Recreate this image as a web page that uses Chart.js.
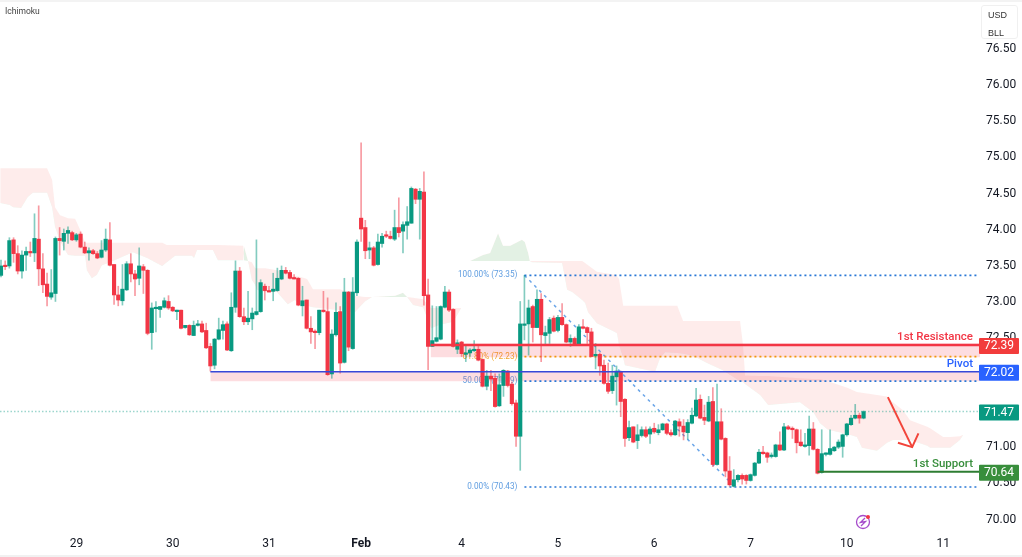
<!DOCTYPE html>
<html>
<head>
<meta charset="utf-8">
<title>Ichimoku</title>
<script src="https://cdn.jsdelivr.net/npm/chart.js@4"></script>
<style>
  html, body { margin: 0; padding: 0; background: #fff; overflow: hidden; }
  #wrap { position: relative; width: 1022px; height: 557px; }
  #topband { position: absolute; left: 0; top: 0; width: 1022px; height: 2px; background: #f3f3f3; }
  #bottomband { position: absolute; left: 0; top: 555px; width: 1022px; height: 2px; background: #f1f1f1; }
  #units { position: absolute; left: 981px; top: 5px; width: 37px; height: 34px; box-sizing: border-box;
           border: 1px solid #f0f0f0; border-radius: 3px; background: #fff;
           font: 9px "Liberation Sans Narrow", "Liberation Sans", sans-serif; color: #333; padding: 0 0 0 6px; line-height: 18px; }
</style>
</head>
<body>
<div id="wrap">
  <canvas id="chart" width="1022" height="557"></canvas>
  <div id="topband"></div>
  <div id="bottomband"></div>
  <div id="units">USD<br>BLL</div>
</div>
<script>
// Hourly candles
const opens = [
  73.35,73.48,73.48,73.84,73.65,73.41,73.63,73.67,73.66,73.85,
  73.44,73.23,73.05,73.10,73.86,73.82,73.93,73.94,73.84,73.92,
  73.74,73.66,73.69,73.65,73.60,73.70,73.84,73.50,73.08,73.00,
  73.15,73.51,73.37,73.31,73.47,73.42,72.56,72.89,72.88,72.91,
  72.99,72.91,72.85,72.87,72.63,72.66,72.52,72.66,72.68,72.59,
  72.37,72.11,72.47,72.59,72.68,72.31,72.91,73.41,72.78,72.71,
  72.75,72.81,72.85,73.20,73.14,73.13,73.14,73.30,73.42,73.39,
  73.32,73.31,72.93,73.01,72.62,72.58,72.56,72.87,72.85,71.99,
  72.53,72.85,72.15,73.12,72.34,73.11,74.14,74.01,73.70,73.73,
  73.50,73.79,73.91,73.89,73.85,74.01,73.96,74.04,74.07,74.54,
  74.40,74.50,73.08,72.37,72.44,72.47,72.91,73.12,72.88,72.33,
  72.43,72.26,72.28,72.31,72.33,72.19,71.82,71.96,71.93,71.55,
  71.83,72.03,71.85,71.59,71.13,72.66,72.68,72.92,72.63,73.02,
  72.52,72.55,72.76,72.59,72.77,72.67,72.43,72.48,72.40,72.63,
  72.63,72.57,72.24,72.26,72.11,71.86,71.76,71.95,72.02,71.64,
  71.11,71.26,71.07,71.14,71.22,71.16,71.24,71.18,71.22,71.30,
  71.18,71.15,71.33,71.27,71.18,71.31,71.41,71.64,71.39,71.34,
  71.61,70.74,71.33,71.10,70.65,70.44,70.53,70.59,70.59,70.52,
  70.59,70.76,70.91,70.90,70.85,70.85,71.01,70.94,71.26,71.24,
  71.22,71.05,70.99,71.00,71.23,70.95,70.63,70.88,70.88,70.93,
  70.98,70.99,71.15,71.29,71.38,71.42,71.38
];
const highs = [
  73.56,73.55,73.87,73.87,73.76,73.69,73.74,73.81,74.20,74.31,
  73.65,73.38,73.43,73.88,74.01,73.99,74.02,73.96,73.93,73.95,
  73.81,73.73,73.71,73.68,73.83,73.99,74.08,73.50,73.20,73.50,
  73.54,73.65,73.42,73.73,73.50,73.43,72.97,72.99,72.92,73.04,
  73.07,72.92,72.87,72.87,72.66,72.67,72.72,72.73,72.72,72.69,
  72.41,72.48,72.76,72.72,72.71,73.11,73.55,73.46,72.90,73.13,
  72.90,73.84,73.29,73.23,73.20,73.38,73.45,73.48,73.46,73.42,
  73.36,73.32,73.20,73.01,72.78,72.60,72.87,73.13,73.04,72.60,
  72.97,72.92,73.31,73.13,73.32,73.84,75.18,74.11,73.81,73.75,
  73.92,73.93,73.96,73.96,74.25,74.42,74.09,74.30,74.57,74.55,
  74.55,74.78,73.30,72.93,72.92,72.93,73.20,73.15,72.89,72.46,
  72.44,72.39,72.34,72.45,72.37,72.20,72.04,72.04,71.99,71.99,
  72.05,72.04,71.88,71.63,72.99,73.35,73.01,72.94,73.15,73.10,
  72.65,72.77,72.79,72.80,72.96,72.68,72.53,72.50,72.67,72.74,
  72.64,72.62,72.41,72.28,72.18,72.14,72.11,72.10,72.03,71.65,
  71.34,71.26,71.29,71.26,71.26,71.26,71.31,71.29,71.31,71.31,
  71.22,71.35,71.37,71.36,71.36,71.52,71.79,71.70,71.56,71.68,
  71.80,71.85,71.51,71.11,70.85,70.67,70.60,70.61,70.60,70.61,
  70.77,70.95,70.99,70.91,70.90,71.02,71.19,71.31,71.28,71.26,
  71.23,71.22,71.17,71.41,71.32,70.96,71.22,70.90,71.22,70.99,
  71.08,71.16,71.31,71.42,71.57,71.45,71.48
];
const lows = [
  73.33,73.43,73.45,73.53,73.37,73.31,73.42,73.61,73.54,73.21,
  73.11,72.93,73.02,72.99,73.63,73.70,73.79,73.83,73.82,73.73,
  73.65,73.56,73.64,73.58,73.59,73.68,73.48,72.95,72.93,72.94,
  73.14,73.26,73.07,73.22,73.10,72.53,72.33,72.57,72.77,72.90,
  72.88,72.85,72.74,72.61,72.62,72.52,72.52,72.65,72.56,72.34,
  72.03,72.06,72.46,72.47,72.31,72.30,72.84,72.77,72.67,72.67,
  72.60,72.80,72.84,73.01,73.12,73.00,73.13,73.29,73.37,73.30,
  73.30,72.93,72.79,72.61,72.41,72.34,72.53,72.84,71.97,71.93,
  72.51,72.00,72.14,72.31,72.33,73.07,73.82,73.58,73.58,73.48,
  73.49,73.74,73.87,73.85,73.83,73.88,73.66,73.85,74.07,74.34,
  73.85,72.94,72.05,72.37,72.43,72.46,72.90,72.85,72.36,72.27,
  72.23,72.16,72.23,72.30,72.17,71.81,71.77,71.76,71.53,71.54,
  71.68,71.81,71.56,70.99,70.66,72.46,72.25,72.43,72.63,72.16,
  72.39,72.41,72.57,72.57,72.66,72.42,72.37,72.39,72.38,72.61,
  72.41,72.23,72.06,71.97,71.85,71.72,71.72,71.56,71.40,70.99,
  71.07,71.04,70.96,71.12,71.11,71.03,71.17,71.15,71.21,71.15,
  71.13,71.14,71.13,71.08,71.09,71.30,71.40,71.37,71.29,71.33,
  70.71,70.73,71.08,70.57,70.44,70.43,70.50,70.47,70.47,70.51,
  70.58,70.75,70.88,70.77,70.83,70.84,70.93,70.93,71.22,71.10,
  70.90,70.99,70.98,70.87,70.94,70.61,70.62,70.86,70.87,70.92,
  70.96,70.84,71.13,71.28,71.37,71.31,71.37
];
const closes = [
  73.48,73.47,73.83,73.65,73.41,73.63,73.68,73.66,73.86,73.44,
  73.22,73.06,73.11,73.86,73.83,73.93,73.97,73.84,73.91,73.74,
  73.66,73.69,73.65,73.59,73.70,73.85,73.49,73.08,73.01,73.16,
  73.51,73.37,73.30,73.48,73.42,72.55,72.90,72.91,72.92,73.00,
  72.90,72.86,72.87,72.62,72.66,72.53,72.66,72.67,72.57,72.35,
  72.10,72.47,72.60,72.67,72.32,72.91,73.41,72.78,72.71,72.76,
  72.83,72.85,73.25,73.14,73.12,73.16,73.31,73.42,73.38,73.31,
  73.30,72.94,73.00,72.62,72.57,72.56,72.87,72.85,71.98,72.54,
  72.84,72.14,73.12,72.36,73.12,73.81,73.99,73.69,73.73,73.49,
  73.81,73.89,73.89,73.86,74.01,73.94,74.05,74.09,74.55,74.40,
  74.51,73.07,72.37,72.45,72.49,72.92,73.12,72.87,72.37,72.42,
  72.27,72.28,72.32,72.33,72.18,71.82,71.96,71.92,71.54,71.84,
  72.04,71.83,71.58,71.13,72.68,72.68,72.90,72.63,73.02,72.53,
  72.56,72.74,72.58,72.77,72.67,72.43,72.48,72.40,72.64,72.62,
  72.56,72.23,72.26,72.10,71.86,71.75,71.96,72.03,71.61,71.10,
  71.25,71.05,71.15,71.22,71.13,71.23,71.19,71.22,71.30,71.17,
  71.15,71.34,71.27,71.19,71.32,71.42,71.63,71.38,71.35,71.60,
  70.74,71.33,71.09,70.65,70.46,70.53,70.59,70.54,70.52,70.60,
  70.76,70.91,70.89,70.84,70.87,71.01,70.94,71.26,71.23,71.22,
  71.04,71.00,71.01,71.23,70.95,70.62,70.89,70.89,70.96,70.98,
  71.05,71.15,71.30,71.38,71.42,71.38,71.47
];

// Ichimoku cloud knots (x in candle numbers)
const cloudX = [
  -0.2,2.1,2.9,4.8,6.4,7.6,11,12.2,12.9,14.1,14.6,16,17.7,18.9,20.1,20.5,21.7,22.9,24.1,25.6,
  31.5,34.9,36.8,38.5,39.6,41.6,45.6,46.1,46.8,50.6,51.8,57.8,58,59,59.9,60.7,61.1,63.1,65.9,68.5,
  70.2,71.4,73.1,74.5,81,84.5,86.9,88.6,94.1,96,97,98.4,100.8,102.7,104.8,108,109.9,112,115.1,116.8,
  118.7,119.9,121.6,124.4,125.1,125.9,126.3,126.8,134,135.2,136.4,138.8,139.5,140.2,142.3,146.6,147.1,147.6,148.6,149,
  156.2,157.4,158.6,161.5,162.9,165.3,168.6,172.4,176.5,177.2,177.7,181.3,183.2,190.8,194,195.6,197.5,202.1,204.4,205.6,
  209.2,211.6,213,215.4,217.1,221.2,221.9,225,226.7,229,229.8
];
const spanA = [
  74.35,74.32,74.29,74.28,74.43,74.49,74.49,74.29,74.02,73.82,73.77,73.63,73.62,73.62,73.62,73.42,73.31,73.36,73.49,73.52,
  73.67,73.59,73.53,73.48,73.53,73.62,73.62,73.59,73.70,73.70,73.56,73.56,73.76,73.55,73.29,73.22,73.15,73.12,73.12,72.95,
  73.01,72.94,72.93,72.91,72.87,72.84,72.99,73.05,73.07,73.11,73.05,72.94,72.91,72.62,72.67,72.71,72.90,73.55,73.63,73.66,
  73.93,73.76,73.76,73.84,73.81,73.66,73.55,73.53,73.52,73.15,73.12,73.01,72.97,72.84,72.69,72.57,72.55,72.39,72.21,72.11,
  72.02,72.21,72.29,72.28,72.27,72.24,72.14,72.04,71.89,71.88,71.85,71.70,71.56,71.60,71.46,71.31,71.22,71.16,71.12,70.97,
  70.93,71.04,71.08,71.08,71.08,71.00,70.97,70.97,70.97,71.08,71.15
];
const spanB = [
  74.83,74.83,74.83,74.83,74.83,74.83,74.83,74.67,74.29,74.18,74.17,74.14,74.13,73.98,73.80,73.80,73.80,73.80,73.80,73.80,
  73.80,73.80,73.80,73.80,73.77,73.77,73.77,73.77,73.77,73.77,73.77,73.76,73.56,73.55,73.53,73.45,73.45,73.45,73.42,73.37,
  73.34,73.33,73.30,73.16,73.16,73.07,73.05,73.05,73.05,73.05,73.05,73.04,73.02,72.90,72.90,72.90,72.90,73.55,73.55,73.55,
  73.55,73.55,73.55,73.55,73.55,73.55,73.55,73.55,73.55,73.55,73.55,73.55,73.52,73.49,73.40,73.36,73.34,73.30,72.93,72.93,
  72.93,72.93,72.93,72.93,72.72,72.72,72.72,72.72,72.72,72.39,71.97,71.96,71.96,71.93,71.92,71.92,71.89,71.80,71.74,71.73,
  71.70,71.68,71.60,71.49,71.35,71.26,71.24,71.12,71.12,71.13,71.15
];

// Axis ticks
const priceTicks = [70,70.5,71,71.5,72,72.5,73,73.5,74,74.5,75,75.5,76,76.5];
const dayTicks = [18,41,64,86,110,133,156,179,202,225];
const dayLabels = ['29','30','31','Feb','4','5','6','7','10','11'];

// Fibonacci retracement
const fibStart = 125;
const fibEnd = 233.3;
const fibPrices = [73.35,72.23,71.89,70.43];
const fibTexts = ['100.00% (73.35)','61.80% (72.23)','50.00% (71.89)','0.00% (70.43)'];
const fibColors = ['#2a78d6','#f0980a','#2a78d6','#2a78d6'];
const fibDiagonalX = [125,175.3];
const fibDiagonalY = [73.35,70.43];

// Support and resistance levels
const resistance = 72.39, resistanceTop = 72.41, resistanceFloor = 72.22, resistanceStart = 102.6;
const pivot = 72.02, pivotFloor = 71.89, pivotStart = 50;
const support = 70.64, supportStart = 195;
const lastPrice = 71.47;
const axisEnd = 233.8;

// Hand drawn arrow
const arrowShaftX = [211.8,217.6];
const arrowShaftY = [71.67,70.98];
const arrowHeadX = [214.2,217.6,219.1];
const arrowHeadY = [71.04,70.98,71.17];

const upColor = '#089981';
const downColor = '#f23645';
const uiFont = 'Roboto, "Liberation Sans", sans-serif';

function pairs(xs, ys) {
  return xs.map((x, i) => ({ x: x, y: ys[i] }));
}

// A flat line between two candle numbers
function level(price, from, to, color, width, dash, order) {
  return {
    type: 'line',
    data: [{ x: from, y: price }, { x: to, y: price }],
    borderColor: color,
    borderWidth: width,
    borderDash: dash,
    pointRadius: 0,
    order: order
  };
}

// A pink band, fills down from the previous dataset
function band(price, from) {
  return {
    type: 'line',
    data: [{ x: from, y: price }, { x: axisEnd, y: price }],
    borderWidth: 0,
    pointRadius: 0,
    fill: { target: '-1', above: 'rgba(242,54,69,0.17)', below: 'rgba(242,54,69,0.17)' },
    order: 9
  };
}

// Keep the plot area at the canvas edges, no room for half tick labels
function noPadding(scale) {
  scale.paddingTop = 0;
  scale.paddingBottom = 0;
  scale.paddingLeft = 0;
  scale.paddingRight = 0;
}

const candleUp = closes.map((c, i) => c >= opens[i]);

// Text, tags and the little icon
const annotations = {
  id: 'annotations',
  beforeDatasetsDraw(chart) {
    const { ctx, scales: { x, y } } = chart;
    ctx.save();
    ctx.font = '8.2px ' + uiFont;
    ctx.textAlign = 'right';
    ctx.textBaseline = 'middle';
    fibTexts.forEach((t, i) => {
      ctx.fillStyle = i == 1 ? '#f0a830' : '#5f9de0';
      ctx.fillText(t, x.getPixelForValue(fibStart) - 7, y.getPixelForValue(fibPrices[i]));
    });
    ctx.restore();
  },
  afterDraw(chart) {
    const { ctx, scales: { x, y } } = chart;
    const right = x.getPixelForValue(axisEnd);
    ctx.save();

    ctx.font = '8.5px ' + uiFont;
    ctx.fillStyle = '#444';
    ctx.textAlign = 'left';
    ctx.textBaseline = 'middle';
    ctx.fillText('Ichimoku', 5, 12);

    // Level names
    ctx.font = '500 11.5px ' + uiFont;
    ctx.textAlign = 'right';
    ctx.fillStyle = '#f23645';
    ctx.fillText('1st Resistance', right - 7, y.getPixelForValue(resistance) - 8);
    ctx.fillStyle = '#2962ff';
    ctx.fillText('Pivot', right - 7, y.getPixelForValue(pivot) - 8);
    ctx.fillStyle = '#388e3c';
    ctx.fillText('1st Support', right - 7, y.getPixelForValue(support) - 8);

    // Price tags on the axis
    const tags = [
      [resistance, '#f23c3c'],
      [pivot, '#2962ff'],
      [lastPrice, upColor],
      [support, '#388e3c']
    ];
    ctx.font = '12px ' + uiFont;
    ctx.textAlign = 'center';
    tags.forEach(([price, color]) => {
      const py = y.getPixelForValue(price) + 1;
      ctx.fillStyle = color;
      ctx.beginPath();
      ctx.roundRect(right - 1, py - 8, 40, 16, 1);
      ctx.fill();
      ctx.fillStyle = '#fff';
      ctx.fillText(price.toFixed(2), right + 19, py + 0.5);
    });

    // Lightning badge
    const bx = 863, by = 522;
    ctx.strokeStyle = '#a64bcb';
    ctx.lineWidth = 1.3;
    ctx.beginPath();
    ctx.arc(bx, by, 6.5, 0, Math.PI * 2);
    ctx.stroke();
    ctx.beginPath();
    ctx.moveTo(bx + 2, by - 4);
    ctx.lineTo(bx - 2.5, by + 0.5);
    ctx.lineTo(bx + 2.5, by - 0.5);
    ctx.lineTo(bx - 2, by + 4);
    ctx.stroke();
    ctx.fillStyle = '#f23645';
    ctx.beginPath();
    ctx.arc(bx + 5, by - 5, 2, 0, Math.PI * 2);
    ctx.fill();

    ctx.restore();
  }
};

let chart = new Chart(
  document.getElementById('chart'),
  {
    type: 'bar',
    plugins: [annotations],
    data: {
      datasets: [
        // Cloud
        {
          type: 'line',
          data: pairs(cloudX, spanA),
          borderWidth: 0,
          pointRadius: 0,
          order: 10
        },
        {
          type: 'line',
          data: pairs(cloudX, spanB),
          borderWidth: 0,
          pointRadius: 0,
          fill: { target: '-1', above: 'rgba(244,67,54,0.1)', below: 'rgba(67,160,71,0.15)' },
          order: 10
        },

        // Zones under resistance and pivot
        { type: 'line', data: [{ x: resistanceStart, y: resistanceTop }, { x: axisEnd, y: resistanceTop }], borderWidth: 0, pointRadius: 0, order: 9 },
        band(resistanceFloor, resistanceStart),
        { type: 'line', data: [{ x: pivotStart, y: pivot }, { x: axisEnd, y: pivot }], borderWidth: 0, pointRadius: 0, order: 9 },
        band(pivotFloor, pivotStart),

        level(lastPrice, -0.24, axisEnd, 'rgba(8,153,129,0.4)', 1.5, [1.5, 2], 8),

        // Fibonacci
        ...fibPrices.map((p, i) => level(p, fibStart, fibEnd, fibColors[i], 1.7, [2, 3], 7)),
        {
          type: 'line',
          data: pairs(fibDiagonalX, fibDiagonalY),
          borderColor: '#6aa5e8',
          borderWidth: 1.5,
          borderDash: [3, 4],
          pointRadius: 0,
          order: 7
        },

        // Candles
        {
          data: lows.map((l, i) => ({ x: i, y: [l, highs[i]] })),
          backgroundColor: candleUp.map(u => u ? 'rgba(8,153,129,0.5)' : 'rgba(242,54,69,0.5)'),
          barThickness: 1,
          grouped: false,
          order: 3
        },
        {
          data: opens.map((o, i) => ({ x: i, y: [o, closes[i]] })),
          backgroundColor: candleUp.map(u => u ? upColor : downColor),
          barThickness: 3.5,
          minBarLength: 1.5,
          grouped: false,
          order: 2
        },

        // Levels on top of the candles
        level(resistance, resistanceStart, axisEnd, '#f23645', 2.5, [], 1),
        level(pivot, pivotStart, axisEnd, '#3748d8', 1.5, [], 1),
        level(support, supportStart, axisEnd, '#2e7d32', 2, [], 1),

        // Arrow
        { type: 'line', data: pairs(arrowShaftX, arrowShaftY), borderColor: '#f2443a', borderWidth: 2, pointRadius: 0, order: 0 },
        { type: 'line', data: pairs(arrowHeadX, arrowHeadY), borderColor: '#f2443a', borderWidth: 2, pointRadius: 0, order: 0 }
      ]
    },
    options: {
      responsive: false,
      animation: false,
      layout: { padding: 0 },
      scales: {
        x: {
          type: 'linear',
          offset: false,
          min: -0.24,
          max: axisEnd,
          grid: { display: false, drawTicks: false },
          border: { display: false },
          afterBuildTicks: scale => { scale.ticks = dayTicks.map(v => ({ value: v })); },
          afterFit: scale => { scale.height = 24; noPadding(scale); },
          ticks: {
            autoSkip: false,
            maxRotation: 0,
            padding: 4,
            color: '#131722',
            font: ctx => ({
              family: uiFont,
              size: 12,
              weight: ctx.tick && ctx.tick.value == 86 ? 'bold' : 'normal'
            }),
            callback: value => dayLabels[dayTicks.indexOf(value)]
          }
        },
        y: {
          position: 'right',
          min: 69.795,
          max: 77.15,
          grid: { display: false, drawTicks: false },
          border: { display: false },
          afterBuildTicks: scale => { scale.ticks = priceTicks.map(v => ({ value: v })); },
          afterFit: scale => { scale.width = 42; noPadding(scale); },
          ticks: {
            autoSkip: false,
            padding: 6,
            labelOffset: 1.5,
            color: '#131722',
            font: { family: uiFont, size: 12 },
            callback: value => value.toFixed(2)
          }
        }
      },
      plugins: {
        legend: { display: false },
        tooltip: { enabled: false }
      }
    }
  }
);
</script>
</body>
</html>
